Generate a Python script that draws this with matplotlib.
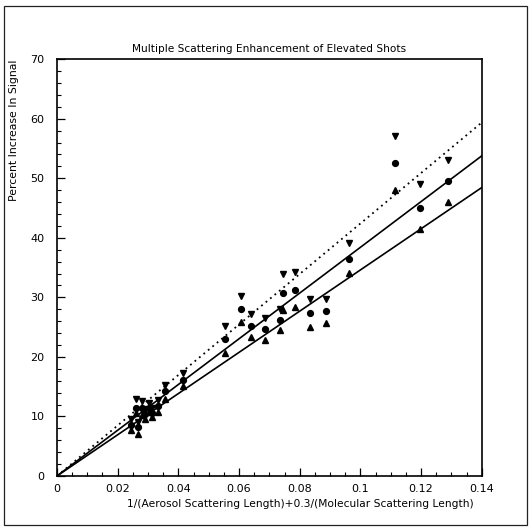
"""
plot.py
Multiple scattering enhancement of elevated shots.
"""

import numpy as np
import matplotlib.pyplot as plt
from matplotlib.patches import Rectangle
from matplotlib.ticker import MultipleLocator

# x: 1/(aerosol scattering length) + 0.3/(molecular scattering length)
x_vals = [0.0243, 0.0259, 0.0266, 0.0280, 0.0289, 0.0302, 0.0313, 0.0334,
          0.0356, 0.0416, 0.0553, 0.0608, 0.0641, 0.0685, 0.0735, 0.0745,
          0.0786, 0.0833, 0.0886, 0.0962, 0.1115, 0.1196, 0.1289]
# percent increase, three estimates per shot
down_vals = [9.6, 12.9, 9.1, 12.6, 11.2, 12.3, 11.5, 12.8, 15.3, 17.3, 25.2,
             30.2, 27.2, 26.6, 28.0, 33.9, 34.2, 29.7, 29.7, 39.1, 57.1, 49.0,
             53.0]
circle_vals = [8.6, 11.5, 8.2, 11.4, 10.4, 11.5, 10.6, 11.8, 14.2, 16.2, 23.0,
               28.0, 25.2, 24.6, 26.2, 30.8, 31.3, 27.4, 27.7, 36.4, 52.6,
               45.0, 49.6]
up_vals = [7.7, 10.5, 7.0, 10.2, 9.5, 10.8, 9.9, 10.8, 13.0, 15.1, 20.6, 25.8,
           23.3, 22.8, 24.5, 27.8, 28.4, 25.0, 25.7, 34.1, 48.0, 41.5, 46.0]

# fitted lines through the origin (percent per unit x)
slope_dotted = 424.0
slope_upper = 384.0
slope_lower = 346.0
line_x = [0.0, 0.14]

plt.rcParams["font.family"] = ["DejaVu Sans"]

fig = plt.figure(figsize=(5.30, 5.28), dpi=100)
ax = fig.add_axes([0.1075, 0.0985, 0.8015, 0.7895])

# outer frame around the whole figure
fig.patches.append(Rectangle((0.008, 0.006), 0.986, 0.983, transform=fig.transFigure,
                             fill=False, edgecolor="#222222", linewidth=0.9))

lx = np.array(line_x)
ax.plot(lx, slope_dotted * lx, color="black", linestyle=(0, (1, 2.2)), linewidth=1.3)
ax.plot(lx, slope_upper * lx, color="black", linewidth=1.2)
ax.plot(lx, slope_lower * lx, color="black", linewidth=1.2)

ax.plot(x_vals, down_vals, "v", color="black", markersize=4.5)
ax.plot(x_vals, circle_vals, "o", color="black", markersize=4.2)
ax.plot(x_vals, up_vals, "^", color="black", markersize=4.5)

ax.set_xlim(0, 0.14)
ax.set_ylim(0, 70)
ax.xaxis.set_minor_locator(MultipleLocator(0.005))
ax.yaxis.set_major_locator(MultipleLocator(10))
ax.yaxis.set_minor_locator(MultipleLocator(2))
ax.set_xticks(np.arange(0, 0.1401, 0.02))
ax.set_xticklabels(["0", "0.02", "0.04", "0.06", "0.08", "0.1", "0.12", "0.14"])
ax.tick_params(which="both", direction="in", top=False, right=False)
ax.tick_params(axis="x", which="major", length=6, width=0.9, pad=6, labelsize=8)
ax.tick_params(axis="x", which="minor", length=3, width=0.8)
ax.tick_params(axis="y", which="major", length=6, width=0.9, pad=9, labelsize=8)
ax.tick_params(axis="y", which="minor", length=3, width=0.8)
for side in ax.spines.values():
    side.set_linewidth(1.2)

ax.set_title("Multiple Scattering Enhancement of Elevated Shots", fontsize=7.6, pad=5)
ax.set_xlabel("1/(Aerosol Scattering Length)+0.3/(Molecular Scattering Length)",
              fontsize=7.7)
ax.xaxis.set_label_coords(0.98, -0.055)
ax.xaxis.label.set_horizontalalignment("right")
ax.set_ylabel("Percent Increase In Signal", fontsize=7.8, loc="top", labelpad=8)

fig.savefig("out.png", dpi=100)
